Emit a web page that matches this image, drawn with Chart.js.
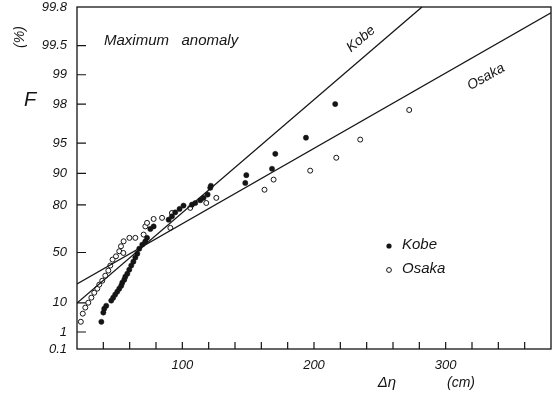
<!DOCTYPE html>
<html>
<head>
<meta charset="utf-8">
<script src="https://cdn.jsdelivr.net/npm/chart.js@4.4.1/dist/chart.umd.min.js"></script>
<style>
  body { margin: 0; background: #fff; }
  #chart { display: block; }
</style>
</head>
<body>
<canvas id="chart" width="557" height="395"></canvas>
<script>
// F (%) on a Gumbel probability scale, x = delta eta (cm)
const yTickValues = [0.1, 1, 10, 50, 80, 90, 95, 98, 99, 99.5, 99.8];
const yTickLabels = ["0.1", "1", "10", "50", "80", "90", "95", "98", "99", "99.5", "99.8"];
const xLabelTicks = [100, 200, 300];

const kobeX = [38.5, 40.0, 40.7, 42.2, 46.0, 47.5, 49.0, 50.6, 52.1, 53.6, 54.4, 55.9, 56.7, 58.2, 59.7,
  61.2, 62.8, 64.3, 65.8, 67.3, 69.6, 71.9, 73.2, 75.7, 78.2, 89.6, 92.1, 94.6, 97.9, 100.9, 107.3,
  109.8, 113.6, 116.1, 119.2, 121.2, 121.7, 147.8, 148.6, 168.1, 170.6, 193.9, 216.1];
const kobeF = [2.7, 5.5, 7.1, 8.5, 11.3, 13.1, 15.1, 17.2, 19.4, 21.7, 24.1, 26.6, 29.1, 31.7, 35.2,
  38.8, 42.2, 45.7, 49.0, 53.1, 56.3, 58.8, 61.3, 67.3, 68.9, 72.8, 74.6, 76.6, 78.2, 79.7, 80.1,
  80.8, 81.9, 82.8, 84.0, 86.2, 86.8, 87.6, 89.6, 91.0, 93.6, 95.6, 98.0];

const osakaX = [22.9, 24.4, 26.3, 28.6, 30.9, 33.1, 35.4, 36.9, 39.2, 41.5, 43.8, 45.3, 47.0, 49.6,
  52.1, 53.4, 55.2, 55.4, 59.8, 64.3, 70.6, 71.9, 73.2, 78.2, 84.6, 90.9, 92.1, 106.0, 118.2, 125.8,
  162.4, 169.3, 197.1, 216.9, 235.1, 272.3];
const osakaF = [2.7, 5.1, 7.6, 10.1, 13.1, 16.4, 19.4, 22.5, 25.7, 30.0, 34.4, 38.8, 44.0, 46.8,
  51.0, 55.0, 49.6, 58.8, 61.3, 61.3, 63.6, 68.9, 71.0, 73.2, 73.8, 68.0, 76.3, 78.7, 80.8, 82.8,
  85.6, 88.5, 90.6, 93.0, 95.4, 97.7];

// fitted lines (end points)
const kobeLineX = [20, 282];
const kobeLineF = [9.9, 99.8];
const osakaLineX = [20, 380];
const osakaLineF = [23.0, 99.77];

const gumbel = (p) => -Math.log(-Math.log(p / 100));
const toPoints = (xs, fs) => xs.map((x, i) => ({ x: x, y: gumbel(fs[i]) }));

const FONT = "'Liberation Sans', Arial, sans-serif";
const INK = "#151515";

// frame, inward ticks and free text
const paperPlugin = {
  id: "paper",
  afterDraw(chart) {
    const { ctx, chartArea: a, scales } = chart;
    ctx.save();
    ctx.strokeStyle = INK;
    ctx.lineWidth = 1.3;
    ctx.strokeRect(a.left, a.top, a.right - a.left, a.bottom - a.top);

    ctx.lineWidth = 1.2;
    ctx.beginPath();
    scales.y.ticks.forEach((t) => {
      const py = scales.y.getPixelForValue(t.value);
      if (py < a.top + 2 || py > a.bottom - 2) return;
      ctx.moveTo(a.left, py);
      ctx.lineTo(a.left + 9, py);
    });
    scales.x.ticks.forEach((t) => {
      if (t.value <= scales.x.min || t.value >= scales.x.max) return;
      const px = scales.x.getPixelForValue(t.value);
      ctx.moveTo(px, a.bottom);
      ctx.lineTo(px, a.bottom - 7);
    });
    ctx.stroke();

    ctx.fillStyle = INK;
    ctx.textBaseline = "middle";
    ctx.font = "italic 15px " + FONT;
    ctx.textAlign = "left";
    ctx.fillText("Maximum   anomaly", 104, 41);

    // line labels
    ctx.font = "italic 14px " + FONT;
    ctx.save();
    ctx.translate(361, 39);
    ctx.rotate(-40 * Math.PI / 180);
    ctx.textAlign = "center";
    ctx.fillText("Kobe", 0, 0);
    ctx.restore();
    ctx.save();
    ctx.translate(486, 77);
    ctx.rotate(-29 * Math.PI / 180);
    ctx.textAlign = "center";
    ctx.fillText("Osaka", 0, 0);
    ctx.restore();

    // legend
    ctx.font = "italic 15px " + FONT;
    ctx.fillText("Kobe", 402, 245);
    ctx.fillText("Osaka", 402, 269);
    ctx.beginPath();
    ctx.arc(389, 246, 2.6, 0, Math.PI * 2);
    ctx.fill();
    ctx.beginPath();
    ctx.arc(389, 270, 2.4, 0, Math.PI * 2);
    ctx.lineWidth = 1;
    ctx.stroke();

    // axis titles
    ctx.font = "italic 20px " + FONT;
    ctx.textAlign = "center";
    ctx.fillText("F", 30, 100);
    ctx.save();
    ctx.translate(20, 37);
    ctx.rotate(-Math.PI / 2);
    ctx.font = "italic 14px " + FONT;
    ctx.fillText("(%)", 0, 0);
    ctx.restore();
    ctx.font = "italic 15px " + FONT;
    ctx.fillText("\u0394\u03B7", 387, 383);
    ctx.font = "italic 14px " + FONT;
    ctx.fillText("(cm)", 461, 383);
    ctx.restore();
  }
};

new Chart(document.getElementById("chart"), {
  type: "scatter",
  data: {
    datasets: [
      {
        data: toPoints(kobeLineX, kobeLineF),
        showLine: true,
        borderColor: INK,
        borderWidth: 1.3,
        pointRadius: 0
      },
      {
        data: toPoints(osakaLineX, osakaLineF),
        showLine: true,
        borderColor: INK,
        borderWidth: 1.3,
        pointRadius: 0
      },
      {
        label: "Kobe",
        data: toPoints(kobeX, kobeF),
        pointRadius: 2.6,
        pointBackgroundColor: INK,
        pointBorderColor: INK,
        pointBorderWidth: 0.5
      },
      {
        label: "Osaka",
        data: toPoints(osakaX, osakaF),
        pointRadius: 2.5,
        pointBackgroundColor: "#fff",
        pointBorderColor: INK,
        pointBorderWidth: 1
      }
    ]
  },
  options: {
    responsive: false,
    animation: false,
    layout: { padding: { top: 7, right: 6, left: 0, bottom: 0 } },
    plugins: {
      legend: { display: false },
      tooltip: { enabled: false }
    },
    scales: {
      x: {
        type: "linear",
        min: 20,
        max: 380,
        afterFit: (s) => {
          s.height = 46;
          s.paddingLeft = 0;
          s.paddingRight = 0;
        },
        grid: { display: false, drawTicks: false },
        border: { display: false },
        ticks: {
          stepSize: 20,
          autoSkip: false,
          maxRotation: 0,
          padding: 9,
          color: INK,
          font: { family: FONT, size: 13, style: "italic" },
          callback: (v) => (xLabelTicks.includes(v) ? String(v) : "")
        }
      },
      y: {
        type: "linear",
        min: gumbel(yTickValues[0]),
        max: gumbel(yTickValues[yTickValues.length - 1]),
        afterFit: (s) => {
          s.width = 77;
          s.paddingTop = 0;
          s.paddingBottom = 0;
        },
        afterBuildTicks: (s) => {
          s.ticks = yTickValues.map((p) => ({ value: gumbel(p) }));
        },
        grid: { display: false, drawTicks: false },
        border: { display: false },
        ticks: {
          autoSkip: false,
          padding: 10,
          color: INK,
          font: { family: FONT, size: 13, style: "italic" },
          callback: (v, i) => yTickLabels[i]
        }
      }
    }
  },
  plugins: [paperPlugin]
});
</script>
</body>
</html>
